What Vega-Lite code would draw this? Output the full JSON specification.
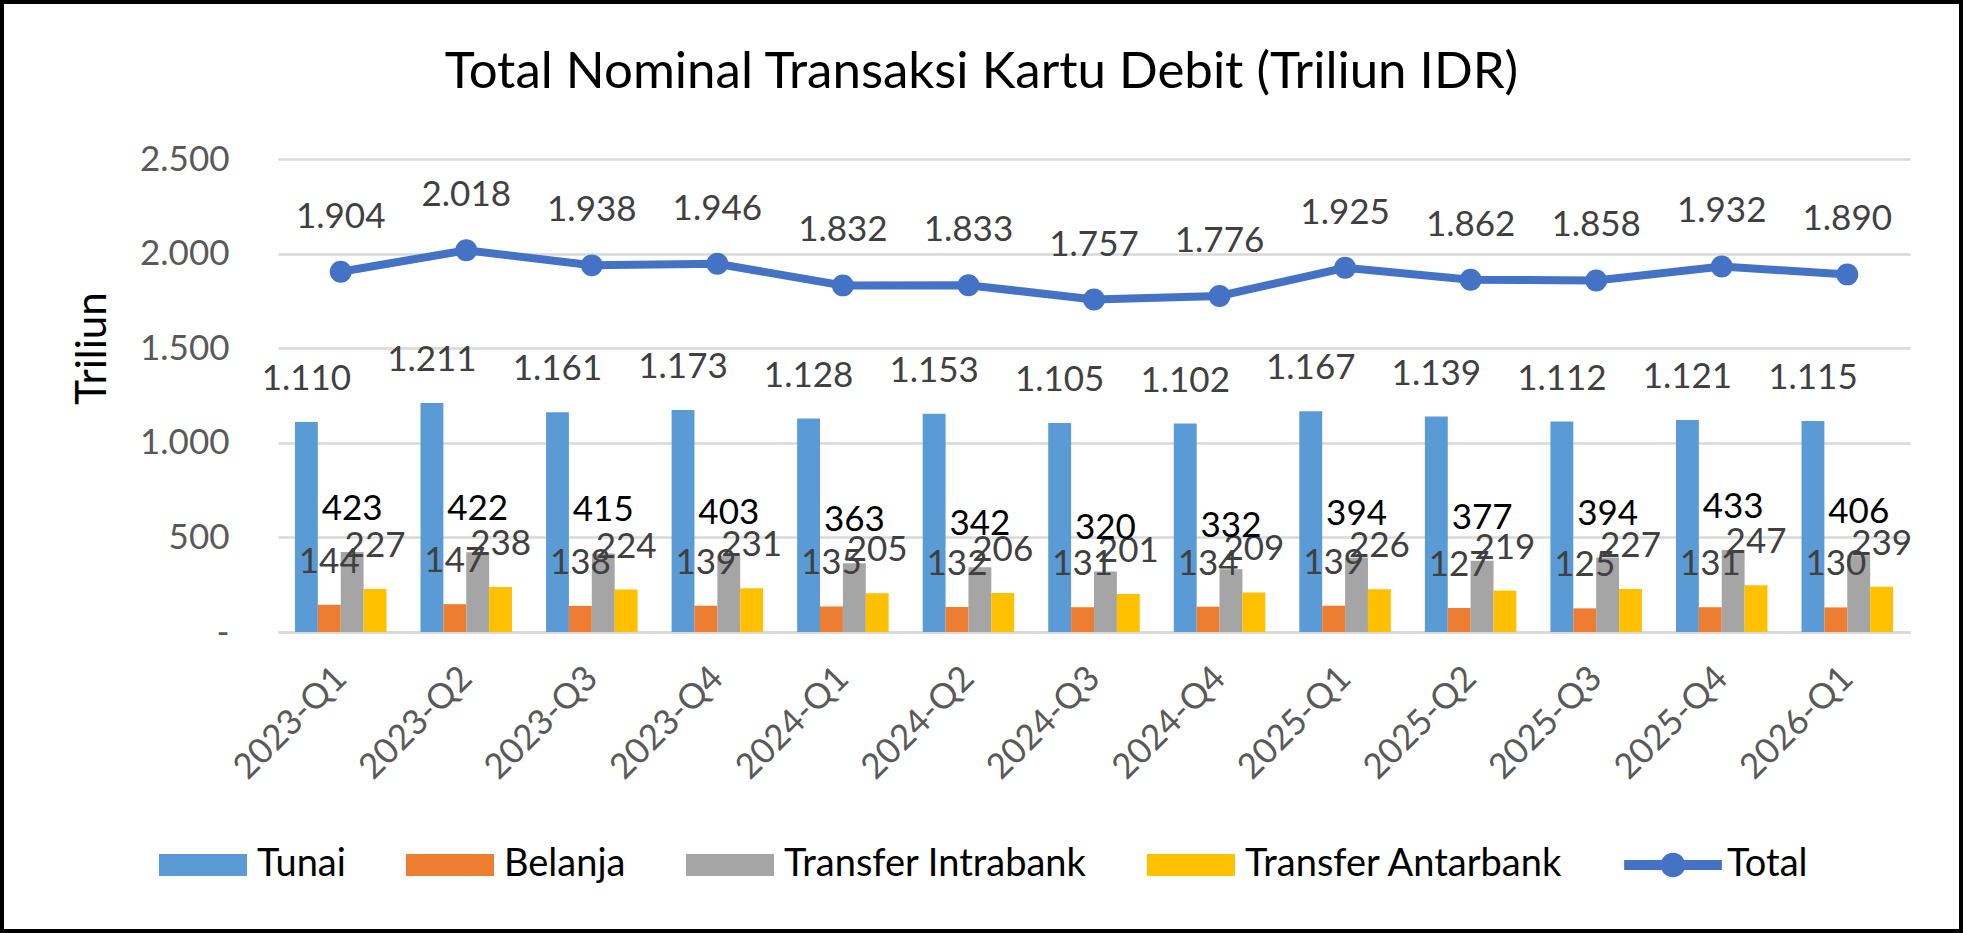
{
  "$schema": "https://vega.github.io/schema/vega-lite/v6.json",
  "autosize": {"type": "none"},
  "width": 1959,
  "height": 929,
  "padding": {"left": 2, "top": 2, "right": 2, "bottom": 2},
  "background": "white",
  "title": {
    "text": "Total Nominal Transaksi Kartu Debit (Triliun IDR)",
    "font": "Lato",
    "fontSize": 51,
    "fontWeight": "normal",
    "color": "black",
    "anchor": "middle",
    "frame": "group",
    "baseline": "alphabetic",
    "offset": 0,
    "dy": 137
  },
  "data": {
    "values": [
      {"quarter": "2023-Q1", "series": "Tunai", "value": 1110},
      {"quarter": "2023-Q2", "series": "Tunai", "value": 1211},
      {"quarter": "2023-Q3", "series": "Tunai", "value": 1161},
      {"quarter": "2023-Q4", "series": "Tunai", "value": 1173},
      {"quarter": "2024-Q1", "series": "Tunai", "value": 1128},
      {"quarter": "2024-Q2", "series": "Tunai", "value": 1153},
      {"quarter": "2024-Q3", "series": "Tunai", "value": 1105},
      {"quarter": "2024-Q4", "series": "Tunai", "value": 1102},
      {"quarter": "2025-Q1", "series": "Tunai", "value": 1167},
      {"quarter": "2025-Q2", "series": "Tunai", "value": 1139},
      {"quarter": "2025-Q3", "series": "Tunai", "value": 1112},
      {"quarter": "2025-Q4", "series": "Tunai", "value": 1121},
      {"quarter": "2026-Q1", "series": "Tunai", "value": 1115},
      {"quarter": "2023-Q1", "series": "Belanja", "value": 144},
      {"quarter": "2023-Q2", "series": "Belanja", "value": 147},
      {"quarter": "2023-Q3", "series": "Belanja", "value": 138},
      {"quarter": "2023-Q4", "series": "Belanja", "value": 139},
      {"quarter": "2024-Q1", "series": "Belanja", "value": 135},
      {"quarter": "2024-Q2", "series": "Belanja", "value": 132},
      {"quarter": "2024-Q3", "series": "Belanja", "value": 131},
      {"quarter": "2024-Q4", "series": "Belanja", "value": 134},
      {"quarter": "2025-Q1", "series": "Belanja", "value": 139},
      {"quarter": "2025-Q2", "series": "Belanja", "value": 127},
      {"quarter": "2025-Q3", "series": "Belanja", "value": 125},
      {"quarter": "2025-Q4", "series": "Belanja", "value": 131},
      {"quarter": "2026-Q1", "series": "Belanja", "value": 130},
      {"quarter": "2023-Q1", "series": "Transfer Intrabank", "value": 423},
      {"quarter": "2023-Q2", "series": "Transfer Intrabank", "value": 422},
      {"quarter": "2023-Q3", "series": "Transfer Intrabank", "value": 415},
      {"quarter": "2023-Q4", "series": "Transfer Intrabank", "value": 403},
      {"quarter": "2024-Q1", "series": "Transfer Intrabank", "value": 363},
      {"quarter": "2024-Q2", "series": "Transfer Intrabank", "value": 342},
      {"quarter": "2024-Q3", "series": "Transfer Intrabank", "value": 320},
      {"quarter": "2024-Q4", "series": "Transfer Intrabank", "value": 332},
      {"quarter": "2025-Q1", "series": "Transfer Intrabank", "value": 394},
      {"quarter": "2025-Q2", "series": "Transfer Intrabank", "value": 377},
      {"quarter": "2025-Q3", "series": "Transfer Intrabank", "value": 394},
      {"quarter": "2025-Q4", "series": "Transfer Intrabank", "value": 433},
      {"quarter": "2026-Q1", "series": "Transfer Intrabank", "value": 406},
      {"quarter": "2023-Q1", "series": "Transfer Antarbank", "value": 227},
      {"quarter": "2023-Q2", "series": "Transfer Antarbank", "value": 238},
      {"quarter": "2023-Q3", "series": "Transfer Antarbank", "value": 224},
      {"quarter": "2023-Q4", "series": "Transfer Antarbank", "value": 231},
      {"quarter": "2024-Q1", "series": "Transfer Antarbank", "value": 205},
      {"quarter": "2024-Q2", "series": "Transfer Antarbank", "value": 206},
      {"quarter": "2024-Q3", "series": "Transfer Antarbank", "value": 201},
      {"quarter": "2024-Q4", "series": "Transfer Antarbank", "value": 209},
      {"quarter": "2025-Q1", "series": "Transfer Antarbank", "value": 226},
      {"quarter": "2025-Q2", "series": "Transfer Antarbank", "value": 219},
      {"quarter": "2025-Q3", "series": "Transfer Antarbank", "value": 227},
      {"quarter": "2025-Q4", "series": "Transfer Antarbank", "value": 247},
      {"quarter": "2026-Q1", "series": "Transfer Antarbank", "value": 239},
      {"quarter": "2023-Q1", "series": "Total", "value": 1904},
      {"quarter": "2023-Q2", "series": "Total", "value": 2018},
      {"quarter": "2023-Q3", "series": "Total", "value": 1938},
      {"quarter": "2023-Q4", "series": "Total", "value": 1946},
      {"quarter": "2024-Q1", "series": "Total", "value": 1832},
      {"quarter": "2024-Q2", "series": "Total", "value": 1833},
      {"quarter": "2024-Q3", "series": "Total", "value": 1757},
      {"quarter": "2024-Q4", "series": "Total", "value": 1776},
      {"quarter": "2025-Q1", "series": "Total", "value": 1925},
      {"quarter": "2025-Q2", "series": "Total", "value": 1862},
      {"quarter": "2025-Q3", "series": "Total", "value": 1858},
      {"quarter": "2025-Q4", "series": "Total", "value": 1932},
      {"quarter": "2026-Q1", "series": "Total", "value": 1890}
    ]
  },
  "encoding": {
    "x": {
      "field": "quarter",
      "type": "nominal",
      "sort": null,
      "scale": {"range": [276, 1908], "paddingInner": 0.271, "paddingOuter": 0.135},
      "axis": {
        "title": null,
        "offset": -299,
        "labelAngle": -45,
        "labelAlign": "right",
        "labelBaseline": "middle",
        "labelPadding": 40,
        "labelFont": "Lato",
        "labelFontSize": 35,
        "labelColor": "#595959",
        "ticks": false,
        "domain": true,
        "domainColor": "#D9D9D9",
        "domainWidth": 2.5,
        "grid": false
      }
    },
    "y": {
      "field": "value",
      "type": "quantitative",
      "scale": {"domain": [0, 2500], "range": [630, 157], "nice": false},
      "axis": {
        "title": "Triliun",
        "titleFont": "Lato",
        "titleFontSize": 42,
        "titleFontWeight": "normal",
        "titleColor": "black",
        "titleX": -186,
        "titleY": 346,
        "titleAlign": "center",
        "titleBaseline": "middle",
        "titleAngle": -90,
        "offset": -276,
        "values": [0, 500, 1000, 1500, 2000, 2500],
        "format": ",d",
        "labelExpr": "datum.value === 0 ? '-' : datum.label",
        "labelPadding": 49,
        "labelFont": "Lato",
        "labelFontSize": 35,
        "labelColor": "#595959",
        "ticks": false,
        "domain": false,
        "grid": true,
        "gridColor": "#D9D9D9",
        "gridWidth": 2.5
      }
    }
  },
  "layer": [
    {
      "transform": [{"filter": "datum.series !== 'Total'"}],
      "mark": {"type": "bar"},
      "encoding": {
        "xOffset": {
          "field": "series",
          "type": "nominal",
          "scale": {"domain": ["Tunai", "Belanja", "Transfer Intrabank", "Transfer Antarbank"], "paddingInner": 0, "paddingOuter": 0}
        },
        "color": {
          "field": "series",
          "type": "nominal",
          "scale": {
            "domain": ["Tunai", "Belanja", "Transfer Intrabank", "Transfer Antarbank", "Total"],
            "range": ["#5B9BD5", "#ED7D31", "#A5A5A5", "#FFC000", "#4472C4"]
          },
          "legend": {
            "orient": "none",
            "legendX": 157,
            "legendY": 819,
            "direction": "horizontal",
            "title": null,
            "symbolSize": 7744,
            "labelFont": "Lato",
            "labelFontSize": 38,
            "labelColor": "black",
            "labelOffset": 10,
            "columnPadding": 60,
            "labelLimit": 0,
            "encode": {
              "symbols": {
                "update": {
                  "shape": {"signal": "datum.value === 'Total' ? 'M-1.11,-0.114H-0.25V0.114H-1.11Z M0.25,-0.114H1.11V0.114H0.25Z M-0.28,0A0.28,0.28 0 1,1 0.28,0A0.28,0.28 0 1,1 -0.28,0Z' : 'M-1,-0.25H1V0.25H-1Z'"},
                  "fill": {"scale": "color", "field": "value"},
                  "fillOpacity": {"value": 1},
                  "opacity": {"value": 1},
                  "strokeWidth": {"value": 0}
                }
              }
            }
          }
        }
      }
    },
    {
      "transform": [{"filter": "datum.series !== 'Total' && datum.series !== 'Transfer Intrabank'"}],
      "mark": {"type": "text", "font": "Lato", "fontSize": 35, "color": "#404040", "baseline": "middle", "dy": -43},
      "encoding": {
        "xOffset": {"field": "series", "type": "nominal"},
        "text": {"field": "value", "type": "quantitative", "format": ",d"}
      }
    },
    {
      "transform": [{"filter": "datum.series === 'Transfer Intrabank'"}],
      "mark": {"type": "text", "font": "Lato", "fontSize": 35, "color": "black", "baseline": "middle", "dy": -43},
      "encoding": {
        "xOffset": {"field": "series", "type": "nominal"},
        "text": {"field": "value", "type": "quantitative", "format": ",d"}
      }
    },
    {
      "transform": [{"filter": "datum.series === 'Total'"}],
      "mark": {"type": "line", "strokeWidth": 8, "point": {"filled": true, "size": 480}},
      "encoding": {
        "color": {"field": "series", "type": "nominal"}
      }
    },
    {
      "transform": [{"filter": "datum.series === 'Total'"}],
      "mark": {"type": "text", "font": "Lato", "fontSize": 35, "color": "#404040", "baseline": "middle", "dy": -55},
      "encoding": {
        "text": {"field": "value", "type": "quantitative", "format": ",d"}
      }
    }
  ],
  "config": {
    "locale": {"number": {"decimal": ",", "thousands": ".", "grouping": [3], "currency": ["Rp", ""]}},
    "view": {"stroke": "black", "strokeWidth": 4}
  }
}
